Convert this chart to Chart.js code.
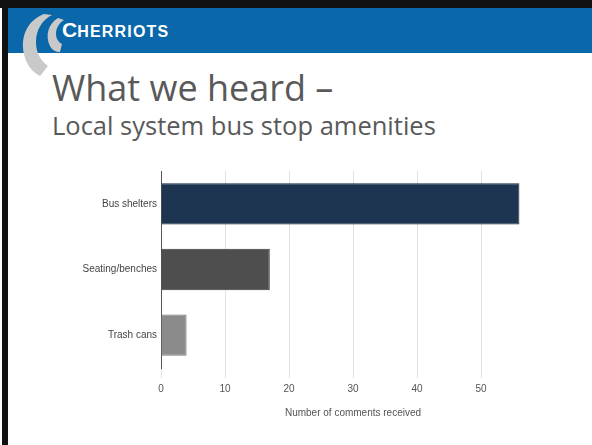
<!DOCTYPE html>
<html>
<head>
<meta charset="utf-8">
<script src="https://cdn.jsdelivr.net/npm/chart.js@4.4.1/dist/chart.umd.min.js"></script>
<style>
  html, body { margin: 0; padding: 0; background: #fff; }
  #slide { position: relative; width: 592px; height: 445px; overflow: hidden; background: #fff; }
  #borderTop { position: absolute; left: 0; top: 0; width: 592px; height: 8px; background: #111; }
  #borderLeft { position: absolute; left: 2px; top: 0; width: 6px; height: 445px; background: #111; }
  #header { position: absolute; left: 8px; top: 8px; width: 584px; height: 45px; background: #0a67a9; }
  #logo { position: absolute; left: 18px; top: 10px; }
  #brand { position: absolute; left: 62px; top: 20px; color: #fff; font-family: "Liberation Sans", Arial, sans-serif;
           font-weight: bold; font-size: 16px; letter-spacing: 1.2px; line-height: 20px; }
  #brand .big { font-size: 21px; letter-spacing: 0; }
  #title { position: absolute; left: 52px; top: 66px; font-family: "Open Sans", sans-serif; font-size: 36px;
           color: #595959; line-height: 44px; white-space: nowrap; }
  #subtitle { position: absolute; left: 52px; top: 109px; font-family: "Open Sans", sans-serif; font-size: 25.5px;
              color: #595959; line-height: 32px; white-space: nowrap; }
  #chartBox { position: absolute; left: 0; top: 150px; width: 592px; height: 295px; }
</style>
</head>
<body>
<div id="slide">
  <div id="header"></div>
  <svg id="logo" width="50" height="70" viewBox="0 0 50 70">
    <path d="M26 4 C10 10 2 26 6 44 C8 54 14 62 22 66 L30 56 C22 50 18 42 18 32 C18 20 24 10 34 5 Z" fill="#c9c9c9"/>
    <path d="M40 8 C30 14 27 26 32 36 C34 40 38 42 42 42 L44 34 C40 32 38 28 38 24 C38 18 41 13 46 10 Z" fill="#c9c9c9"/>
  </svg>
  <div id="brand"><span class="big">C</span>HERRIOTS</div>
  <div id="borderTop"></div>
  <div id="borderLeft"></div>
  <div id="title">What we heard –</div>
  <div id="subtitle">Local system bus stop amenities</div>
  <div id="chartBox"><canvas id="amenitiesChart"></canvas></div>
</div>
<script>
// Chart data
const categories = ['Bus shelters', 'Seating/benches', 'Trash cans'];
const comments = [56, 17, 4];
const xMin = 0;
const xMax = 60;
const xStep = 10;
const xTitle = 'Number of comments received';

// Bar styles
const barColors = ['#1e3551', '#4e4e4e', '#8b8b8b'];
const barBorders = ['#16283d', '#3c3c3c', '#767676'];

const ctx = document.getElementById('amenitiesChart').getContext('2d');
const chart = new Chart(ctx, {
    type: 'bar',
    data: {
        labels: categories,
        datasets: [{
            label: xTitle,
            data: comments,
            backgroundColor: barColors,
            borderColor: barBorders,
            borderWidth: 1,
            barPercentage: 0.9,
            categoryPercentage: 0.7
        }]
    },
    options: {
        indexAxis: 'y',
        responsive: true,
        maintainAspectRatio: false,
        animation: false,
        layout: { padding: { left: 20, right: 47, top: 21, bottom: 10 } },
        plugins: {
            legend: { display: false },
            tooltip: { enabled: false }
        },
        scales: {
            x: {
                min: xMin,
                max: xMax,
                ticks: {
                    stepSize: xStep,
                    padding: 5,
                    color: '#555',
                    font: { family: 'Liberation Sans, Arial, sans-serif', size: 10 },
                    callback: function(value) {
                        return value === xMax ? '' : value;
                    }
                },
                grid: {
                    tickLength: 10,
                    // last line (at the max) is not shown in the original
                    color: c => (c.tick && c.tick.value === xMax) ? 'rgba(0,0,0,0)' : '#e2e2e2'
                },
                border: { display: false },
                title: {
                    display: true,
                    text: xTitle,
                    color: '#555',
                    font: { family: 'Liberation Sans, Arial, sans-serif', size: 10 },
                    padding: { top: 0, bottom: 16 }
                },
                afterFit: function(axis) { axis.height = 67; }
            },
            y: {
                ticks: {
                    padding: 4,
                    color: '#444',
                    font: { family: 'Liberation Sans, Arial, sans-serif', size: 10 }
                },
                grid: { display: false, drawTicks: false },
                border: { display: true, color: '#555', width: 1 },
                afterFit: function(axis) { axis.width = 141; }
            }
        }
    }
});
</script>
</body>
</html>
